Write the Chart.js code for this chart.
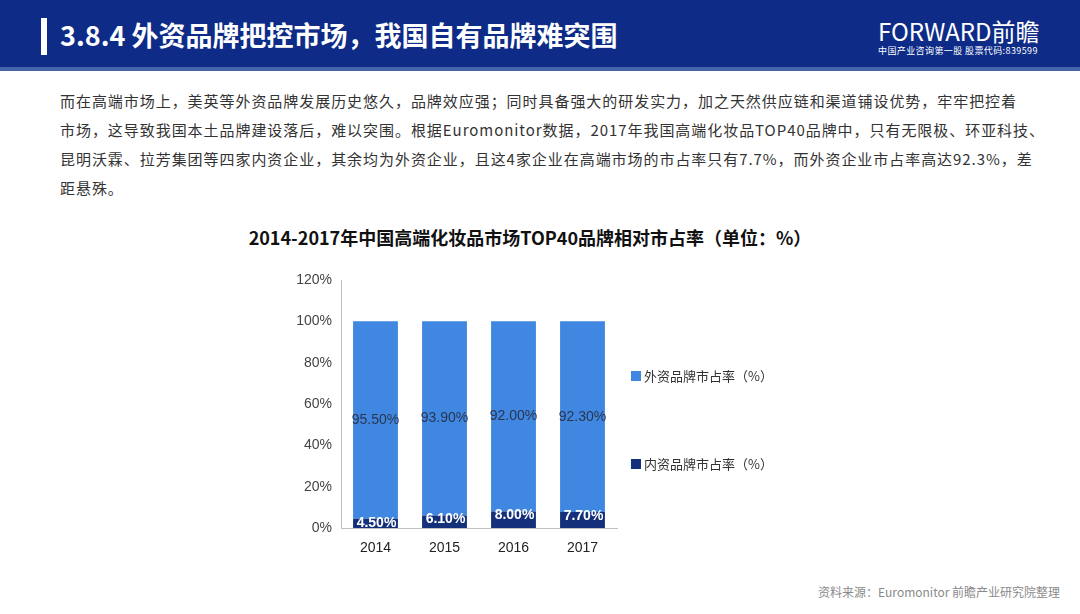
<!DOCTYPE html>
<html>
<head>
<meta charset="utf-8">
<script src="https://cdn.jsdelivr.net/npm/chart.js@4.4.0/dist/chart.umd.min.js"></script>
<style>
  body { margin: 0; width: 1080px; height: 614px; background: #fff; position: relative; overflow: hidden;
         font-family: "Noto Sans CJK SC", "Noto Sans", sans-serif; }
  #header { position: absolute; left: 0; top: 0; width: 1080px; height: 67px; background: #0d2b87;
            border-bottom: 4px solid #4465a8; }
  #bar { position: absolute; left: 41px; top: 18px; width: 6px; height: 37px; background: #fff; }
  #title { position: absolute; left: 60px; top: 15px; color: #fff; font-size: 27px; font-weight: bold; line-height: 40px; }
  #logo { position: absolute; left: 878px; top: 17px; color: #fff; font-size: 24px; line-height: 28px; font-family: "Noto Sans CJK SC"; }
  #logo small { display: block; font-size: 9px; line-height: 12px; letter-spacing: 0.4px; }
  #text { position: absolute; left: 60px; top: 86px; color: #333; font-size: 15px; line-height: 29px; letter-spacing: 0.95px; white-space: nowrap; }
  #ctitle { position: absolute; left: 0; width: 1060px; top: 224px; text-align: center; color: #111; font-size: 18px; font-weight: bold; }
  #wrap { position: absolute; left: 280px; top: 260px; width: 520px; height: 300px; }
  #src { position: absolute; left: 818px; top: 583px; color: #8a8a8a; font-size: 12px; }
</style>
</head>
<body>
<div id="header">
  <div id="bar"></div>
  <div id="title">3.8.4 外资品牌把控市场，我国自有品牌难突围</div>
  <div id="logo">FORWARD前瞻<small>中国产业咨询第一股 股票代码:839599</small></div>
</div>
<div id="text">而在高端市场上，美英等外资品牌发展历史悠久，品牌效应强；同时具备强大的研发实力，加之天然供应链和渠道铺设优势，牢牢把控着<br>市场，这导致我国本土品牌建设落后，难以突围。根据Euromonitor数据，2017年我国高端化妆品TOP40品牌中，只有无限极、环亚科技、<br>昆明沃霖、拉芳集团等四家内资企业，其余均为外资企业，且这4家企业在高端市场的市占率只有7.7%，而外资企业市占率高达92.3%，差<br>距悬殊。</div>
<div id="ctitle">2014-2017年中国高端化妆品市场TOP40品牌相对市占率（单位：%）</div>
<div id="wrap"><canvas id="chart" width="520" height="300"></canvas></div>
<div id="src">资料来源：Euromonitor 前瞻产业研究院整理</div>

<script>
const years = ["2014", "2015", "2016", "2017"];
const domestic = [4.5, 6.1, 8.0, 7.7];
const foreign = [95.5, 93.9, 92.0, 92.3];
const yTicks = [0, 20, 40, 60, 80, 100, 120];

const ctx = document.getElementById("chart").getContext("2d");

// value labels on the bars
const barLabels = {
    id: "barLabels",
    afterDatasetsDraw(chart) {
        const { ctx } = chart;
        ctx.save();
        ctx.textAlign = "center";
        ctx.textBaseline = "middle";
        chart.data.datasets.forEach((ds, di) => {
            const meta = chart.getDatasetMeta(di);
            meta.data.forEach((bar, i) => {
                const txt = ds.data[i].toFixed(2) + "%";
                if (di === 0) {
                    ctx.font = "bold 14px 'Liberation Sans', Arial";
                    ctx.fillStyle = "#fff";
                    ctx.fillText(txt, bar.x + 1, bar.y + 4);
                } else {
                    ctx.font = "14px 'Liberation Sans', Arial";
                    ctx.fillStyle = "#2b3550";
                    ctx.fillText(txt, bar.x, (bar.y + bar.base) / 2);
                }
            });
        });
        ctx.restore();
    }
};

// legend on the right, spread out like the original
const sideLegend = {
    id: "sideLegend",
    afterDraw(chart) {
        const { ctx } = chart;
        const items = [chart.data.datasets[1], chart.data.datasets[0]];
        ctx.save();
        ctx.font = "13px 'Noto Sans CJK SC'";
        ctx.textBaseline = "middle";
        items.forEach((ds, k) => {
            const y = 116 + k * 88;
            ctx.fillStyle = ds.backgroundColor;
            ctx.fillRect(351, y - 5, 10, 10);
            ctx.fillStyle = "#333";
            ctx.fillText(ds.label, 364, y);
        });
        ctx.restore();
    }
};

new Chart(ctx, {
    type: "bar",
    data: {
        labels: years,
        datasets: [
            { label: "内资品牌市占率（%）", data: domestic, backgroundColor: "#14307a" },
            { label: "外资品牌市占率（%）", data: foreign, backgroundColor: "#3f87e0" }
        ]
    },
    options: {
        responsive: false,
        animation: false,
        layout: { padding: { top: 20, right: 183, left: 0, bottom: 0 } },
        datasets: { bar: { categoryPercentage: 1, barPercentage: 0.65 } },
        plugins: { legend: { display: false }, tooltip: { enabled: false } },
        scales: {
            x: {
                stacked: true,
                grid: { display: false, drawTicks: false },
                border: { color: "#bfbfbf" },
                ticks: { color: "#222", font: { size: 14, family: "'Liberation Sans', Arial" }, padding: 12 },
                afterFit(s) { s.height = 32; }
            },
            y: {
                stacked: true,
                min: 0, max: 120,
                grid: { display: false, drawTicks: false },
                border: { color: "#bfbfbf" },
                afterBuildTicks(s) { s.ticks = yTicks.map(v => ({ value: v })); },
                ticks: { color: "#444", font: { size: 14, family: "'Liberation Sans', Arial" }, padding: 9,
                         callback: v => v + "%" },
                afterFit(s) { s.width = 61; }
            }
        }
    },
    plugins: [barLabels, sideLegend]
});
</script>
</body>
</html>
